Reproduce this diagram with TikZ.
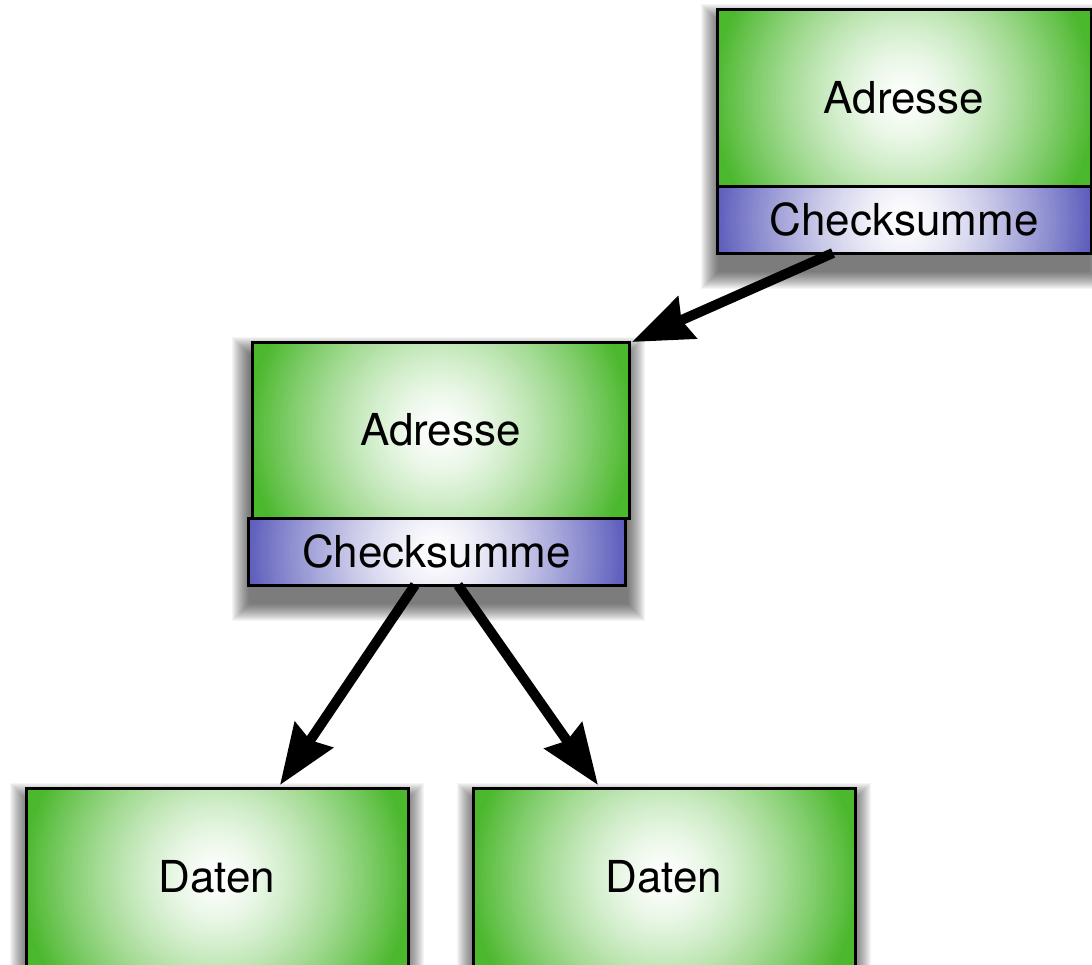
\documentclass[tikz,border=0pt]{standalone}
\usepackage{fontspec}
\setmainfont{TeX Gyre Heros}
\usetikzlibrary{arrows.meta,backgrounds}

\definecolor{gedge}{RGB}{76,184,46}
\definecolor{pedge}{RGB}{92,92,188}

% circular glow built from concentric discs: #1 = colour, #2 = radius (pt)
\newcommand\glowdiscs[2]{%
  \foreach \k in {0,...,59} {
    \pgfmathsetmacro\rr{#2*(1-\k/60)}
    \pgfmathsetmacro\pp{100*(1-\k/60)^1.4}
    \fill[#1!\pp!white] (path picture bounding box.center) circle[radius=\rr pt];
  }%
}

\tikzset{
  boxbase/.style={draw=black, line width=3pt, inner sep=0pt, outer sep=0pt,
    anchor=north west, font=\fontsize{44}{52}\selectfont},
  % #1 = radius of the glow
  greenbox/.style={boxbase, fill=gedge, path picture={\glowdiscs{gedge}{#1}}},
  purplebox/.style={boxbase, fill=pedge, path picture={\glowdiscs{pedge}{#1}}},
  arrowline/.style={line width=10pt, -{Stealth[length=60pt, width=45pt, inset=6pt]}},
}

\begin{document}
\begin{tikzpicture}[x=1pt, y=-1pt]
  \useasboundingbox (0,0) rectangle (1092,964);
  \clip (0,0) rectangle (1092,964);

  % upper record
  \node[greenbox=192, minimum width=374pt, minimum height=177pt] (adr1) at (717,9) {Adresse};
  \node[purplebox=190, minimum width=374pt, minimum height=67pt] (chk1) at (717,186) {Checksumme};

  % middle record
  \node[greenbox=193, minimum width=377pt, minimum height=176pt] (adr2) at (252,342) {Adresse};
  \node[purplebox=191, minimum width=377pt, minimum height=67pt] (chk2) at (248,518) {Checksumme};

  % data blocks
  \node[greenbox=195, minimum width=382pt, minimum height=178pt] (dat1) at (26,788) {Daten};
  \node[greenbox=195, minimum width=382pt, minimum height=178pt] (dat2) at (473,788) {Daten};

  % soft drop shadows, cast downwards
  \begin{scope}[on background layer]
    \clip (0,0) rectangle (1092,964);
    \foreach \nw/\se in {{adr1.north west}/{chk1.south east},
                         {chk2.west |- adr2.north}/{adr2.east |- chk2.south},
                         {dat1.north west}/{dat1.south east},
                         {dat2.north west}/{dat2.south east}} {
      \foreach \k in {0,...,17} {
        \fill[black, opacity=0.04]
          ([shift={(-16+\k,-5+\k)}]\nw) rectangle ([shift={(16-\k,36-\k)}]\se);
      }
    }
  \end{scope}

  % connectors
  \draw[arrowline] ([xshift=-71pt]chk1.south) -- ([xshift=3pt]adr2.north east);
  \draw[arrowline] ([xshift=-21.5pt]chk2.south) -- ([xshift=63pt,yshift=3pt]dat1.north);
  \draw[arrowline] ([xshift=21.5pt]chk2.south) -- ([xshift=-66pt,yshift=3pt]dat2.north);
\end{tikzpicture}
\end{document}
